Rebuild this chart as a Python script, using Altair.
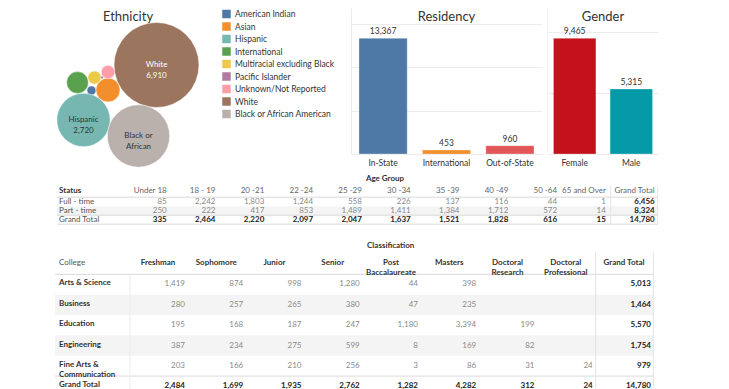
import altair as alt
import pandas as pd

FONT = "Lato"
DARK = "#333333"
GREY = "#8a8a8a"
LINE = "#d9d9d9"
BAND = "#f4f4f4"

# ---------------- data ----------------
eth_names = ["American Indian", "Asian", "Hispanic", "International",
             "Multiracial excluding Black", "Pacific Islander",
             "Unknown/Not Reported", "White", "Black or African American"]
eth_values = [78, 551, 2720, 453, 165, 8, 175, 6910, 3720]
eth_colors = ["#4e79a7", "#f28e2b", "#76b7b2", "#59a14f", "#edc948",
              "#b07aa1", "#ff9da7", "#9c755f", "#bab0ac"]
# packed-bubble layout centres (layout units)
eth_x = [83.5, 100, 75.5, 69.5, 86.5, 94, 100, 148.5, 130.5]
eth_y = [82.5, 82, 112, 74.5, 69.5, 69.5, 64, 57, 128]
bubble_label_names = ["White", "Hispanic", "Black or African American"]
bubble_label_text = ["White\n6,910", "Hispanic\n2,720", "Black or\nAfrican"]
bubble_label_color = ["#ffffff", DARK, DARK]

res_cats = ["In-State", "International", "Out-of-State"]
res_vals = [13367, 453, 960]
res_colors = ["#4e79a7", "#f28e2b", "#e15759"]

gen_cats = ["Female", "Male"]
gen_vals = [9465, 5315]
gen_colors = ["#c4111c", "#0699a8"]

age_cols = ["Under 18", "18 - 19", "20 -21", "22 -24", "25 -29", "30 -34",
            "35 -39", "40 -49", "50 -64", "65 and Over"]
age_status = ["Full - time", "Part - time"]
full_time = [85, 2242, 1803, 1244, 558, 226, 137, 116, 44, 1]
part_time = [250, 222, 417, 853, 1489, 1411, 1384, 1712, 572, 14]

colleges = ["Arts & Science", "Business", "Education", "Engineering",
            "Fine Arts &\nCommunication"]
classes = ["Freshman", "Sophomore", "Junior", "Senior", "Post\nBaccalaureate",
           "Masters", "Doctoral\nResearch", "Doctoral\nProfessional"]
arts_science = [1419, 874, 998, 1280, 44, 398, None, None]
business = [280, 257, 265, 380, 47, 235, None, None]
education = [195, 168, 187, 247, 1180, 3394, 199, None]
engineering = [387, 234, 275, 599, 8, 169, 82, None]
fine_arts = [203, 166, 210, 256, 3, 86, 31, 24]
college_values = [arts_science, business, education, engineering, fine_arts]

TITLE_Y = 13
TITLE_SIZE = 13


def one(text):
    return pd.DataFrame({"t": [text]})


# ---------------- Ethnicity bubbles ----------------
eth_df = pd.DataFrame({"name": eth_names, "value": eth_values, "bx": eth_x, "by": eth_y})
lab_df = pd.DataFrame({"name": bubble_label_names, "lab": bubble_label_text,
                       "lc": bubble_label_color})
lab_df["bx"] = [eth_x[eth_names.index(n)] for n in bubble_label_names]
lab_df["by"] = [eth_y[eth_names.index(n)] for n in bubble_label_names]

PANEL_W, PANEL_H = 338, 381
bx_scale = alt.Scale(domain=[0, PANEL_W], nice=False, zero=False)
by_scale = alt.Scale(domain=[0, PANEL_H], nice=False, zero=False, reverse=True)

bubbles = alt.Chart(eth_df).mark_circle(opacity=1, stroke="white", strokeWidth=0.7,
                                        strokeOpacity=0.7).encode(
    x=alt.X("bx:Q", scale=bx_scale, axis=None),
    y=alt.Y("by:Q", scale=by_scale, axis=None),
    size=alt.Size("value:Q", scale=alt.Scale(domain=[0, 6910], range=[0, 7225]), legend=None),
    color=alt.Color("name:N", scale=alt.Scale(domain=eth_names, range=eth_colors),
                    legend=alt.Legend(title=None, orient="none", legendX=214, legendY=1.5,
                                      symbolType="square", symbolSize=72,
                                      symbolStrokeWidth=0, symbolOpacity=1,
                                      labelFontSize=8.5, labelColor=DARK, labelFont=FONT,
                                      rowPadding=3.5, labelOffset=4, padding=0,
                                      labelLimit=300)),
)
bubble_labels = alt.Chart(lab_df).mark_text(fontSize=8, lineBreak="\n", lineHeight=10.5,
                                            baseline="middle", align="center").encode(
    x=alt.X("bx:Q", scale=bx_scale, axis=None),
    y=alt.Y("by:Q", scale=by_scale, axis=None),
    text="lab:N",
    color=alt.Color("lc:N", scale=None),
)
eth_title = alt.Chart(one("Ethnicity")).mark_text(fontSize=TITLE_SIZE, color=DARK,
                                                 align="center", baseline="alphabetic").encode(
    text="t:N", x=alt.value(120), y=alt.value(TITLE_Y))

# ---------------- Age table (drawn in the left panel's frame) ----------------
AGE_TOP = 170
age_rows = age_status + ["Grand Total"]
age_all_cols = age_cols + ["Grand Total"]
cells, totals = [], []
for r, vals in zip(age_status, [full_time, part_time]):
    for c, v in zip(age_cols, vals):
        cells.append(dict(acol=c, arow=r, val=v))
    totals.append(dict(acol="Grand Total", arow=r, val=sum(vals)))
for i, c in enumerate(age_cols):
    totals.append(dict(acol=c, arow="Grand Total", val=full_time[i] + part_time[i]))
totals.append(dict(acol="Grand Total", arow="Grand Total", val=sum(full_time) + sum(part_time)))

ax_scale = alt.Scale(type="point", domain=age_all_cols, range=[158.7, 646.7], padding=0)
ay_scale = alt.Scale(type="band", domain=age_rows, range=[AGE_TOP + 19.2, AGE_TOP + 46.2],
                     paddingInner=0, paddingOuter=0)
AX = lambda: alt.X("acol:N", scale=ax_scale, axis=None)
AY = lambda **kw: alt.Y("arow:N", scale=ay_scale, axis=None, **kw)

age_band = alt.Chart(pd.DataFrame({"arow": ["Part - time"]})).mark_rect(color=BAND).encode(
    y=AY(), x=alt.value(49), x2=alt.value(649.7))
age_hlines = alt.Chart(pd.DataFrame({"arow": ["Full - time", "Grand Total"]})).mark_rule(
    color=LINE, strokeWidth=1).encode(y=AY(bandPosition=0), x=alt.value(49), x2=alt.value(649.7))
age_bottom = alt.Chart(pd.DataFrame({"arow": ["Grand Total"]})).mark_rule(
    color=LINE, strokeWidth=1).encode(y=AY(bandPosition=1), x=alt.value(49), x2=alt.value(649.7))
age_vlines = alt.Chart(pd.DataFrame({"k": [602.7, 649.7]})).mark_rule(
    color="#e3e3e3", strokeWidth=1).encode(x=alt.X("k:Q", scale=None),
                                           y=alt.value(AGE_TOP + 8), y2=alt.value(AGE_TOP + 46.2))
age_head = alt.Chart(pd.DataFrame({"acol": age_all_cols})).mark_text(
    align="right", baseline="middle", fontSize=8, color="#666666").encode(
    x=AX(), y=alt.value(AGE_TOP + 12.7), text="acol:N")
age_status_head = alt.Chart(one("Status")).mark_text(
    align="left", baseline="middle", fontSize=8, fontWeight="bold", color=DARK).encode(
    x=alt.value(51), y=alt.value(AGE_TOP + 12.7), text="t:N")
age_group_head = alt.Chart(one("Age Group")).mark_text(
    align="center", baseline="middle", fontSize=8, fontWeight="bold", color=DARK).encode(
    x=alt.value(377), y=alt.value(AGE_TOP + 1), text="t:N")
age_row_head = alt.Chart(pd.DataFrame({"arow": age_rows})).mark_text(
    align="left", baseline="middle", fontSize=8, color="#555555").encode(
    x=alt.value(51), y=AY(), text="arow:N")
age_cells = alt.Chart(pd.DataFrame(cells)).mark_text(
    align="right", baseline="middle", fontSize=8, color=GREY).encode(
    x=AX(), y=AY(), text=alt.Text("val:Q", format=","))
age_totals = alt.Chart(pd.DataFrame(totals)).mark_text(
    align="right", baseline="middle", fontSize=8, fontWeight="bold", color="#222222").encode(
    x=AX(), y=AY(), text=alt.Text("val:Q", format=","))

# ---------------- College table ----------------
COL_TOP = 230
col_rows = colleges + ["Grand Total"]
col_all = classes + ["Grand Total"]
ccells, ctotals = [], []
for cname, vals in zip(colleges, college_values):
    for cl, v in zip(classes, vals):
        if v is not None:
            ccells.append(dict(ccol=cl, crow=cname, val=v))
    ctotals.append(dict(ccol="Grand Total", crow=cname, val=sum(v for v in vals if v)))
for j, cl in enumerate(classes):
    ctotals.append(dict(ccol=cl, crow="Grand Total",
                        val=sum(vals[j] for vals in college_values if vals[j])))
ctotals.append(dict(ccol="Grand Total", crow="Grand Total",
                    val=sum(v for vals in college_values for v in vals if v)))

cx_scale = alt.Scale(type="point", domain=col_all, range=[177, 643], padding=0)
cy_scale = alt.Scale(type="band", domain=col_rows, range=[COL_TOP + 36.3, COL_TOP + 158.4],
                     paddingInner=0, paddingOuter=0)
CX = lambda: alt.X("ccol:N", scale=cx_scale, axis=None)
CY = lambda **kw: alt.Y("crow:N", scale=cy_scale, axis=None, **kw)

col_band = alt.Chart(pd.DataFrame({"crow": ["Business", "Engineering"]})).mark_rect(
    color=BAND).encode(y=CY(), x=alt.value(47), x2=alt.value(645.3))
col_hlines = alt.Chart(pd.DataFrame({"crow": ["Arts & Science", "Grand Total"]})).mark_rule(
    color=LINE, strokeWidth=1).encode(y=CY(bandPosition=0), x=alt.value(47), x2=alt.value(645.3))
col_vline_a = alt.Chart(pd.DataFrame({"k": [122]})).mark_rule(
    color="#ebebeb", strokeWidth=1).encode(x=alt.X("k:Q", scale=None),
                                           y=alt.value(COL_TOP + 36.3), y2=alt.value(COL_TOP + 170))
col_vlines = alt.Chart(pd.DataFrame({"k": [587.7, 645.3]})).mark_rule(
    color="#e3e3e3", strokeWidth=1).encode(x=alt.X("k:Q", scale=None),
                                           y=alt.value(COL_TOP + 13.7), y2=alt.value(COL_TOP + 170))
col_head = alt.Chart(pd.DataFrame({"ccol": col_all})).mark_text(
    align="center", baseline="middle", dx=-27, fontSize=8, fontWeight="bold", color=DARK,
    lineBreak="\n", lineHeight=10).encode(x=CX(), y=alt.value(COL_TOP + 25.3), text="ccol:N")
col_college_head = alt.Chart(one("College")).mark_text(
    align="left", baseline="middle", fontSize=8, color="#555555").encode(
    x=alt.value(51), y=alt.value(COL_TOP + 25.3), text="t:N")
col_class_head = alt.Chart(one("Classification")).mark_text(
    align="center", baseline="middle", fontSize=8, fontWeight="bold", color=DARK).encode(
    x=alt.value(382.7), y=alt.value(COL_TOP + 8), text="t:N")
col_row_head = alt.Chart(pd.DataFrame({"crow": col_rows})).mark_text(
    align="left", baseline="middle", fontSize=8, fontWeight="bold", color=DARK,
    lineBreak="\n", lineHeight=10, dy=-1).encode(x=alt.value(51), y=CY(), text="crow:N")
col_cells = alt.Chart(pd.DataFrame(ccells)).mark_text(
    align="right", baseline="middle", fontSize=8, color=GREY).encode(
    x=CX(), y=CY(), text=alt.Text("val:Q", format=","))
col_totals = alt.Chart(pd.DataFrame(ctotals)).mark_text(
    align="right", baseline="middle", fontSize=8, fontWeight="bold", color="#222222").encode(
    x=CX(), y=CY(), text=alt.Text("val:Q", format=","))

left_panel = alt.layer(
    bubbles, bubble_labels, eth_title,
    age_band, age_hlines, age_bottom, age_vlines, age_head, age_status_head,
    age_group_head, age_row_head, age_cells, age_totals,
    col_band, col_hlines, col_vline_a, col_vlines, col_head, col_college_head,
    col_class_head, col_row_head, col_cells, col_totals,
).resolve_scale(x="independent", y="independent", color="independent").properties(
    width=PANEL_W, height=PANEL_H)


# ---------------- bar panels ----------------
def bar_panel(cats, vals, colors, title, width, ymax, grid_vals, pin, pout, fname, edge):
    df = pd.DataFrame({fname: cats, "v": vals})
    base = alt.Chart(df).encode(
        x=alt.X(f"{fname}:N", sort=cats,
                scale=alt.Scale(paddingInner=pin, paddingOuter=pout),
                axis=alt.Axis(title=None, labelAngle=0, domain=False, ticks=False,
                              labelPadding=4, labelFontSize=8.5, labelColor=DARK,
                              labelFont=FONT)),
        y=alt.Y("v:Q", scale=alt.Scale(domain=[0, ymax], nice=False, zero=True),
                axis=alt.Axis(title=None, labels=False, ticks=False, values=grid_vals,
                              grid=True, gridColor="#ececec", domain=True,
                              domainColor=edge)),
    )
    bars = base.mark_bar(stroke="white", strokeWidth=0.6, strokeOpacity=0.5).encode(
        color=alt.Color(f"{fname}:N", scale=alt.Scale(domain=cats, range=colors), legend=None))
    labels = base.mark_text(baseline="bottom", dy=-2, fontSize=8.5, color=DARK).encode(
        text=alt.Text("v:Q", format=","))
    ttl = alt.Chart(one(title)).mark_text(fontSize=TITLE_SIZE, color=DARK, align="center",
                                          baseline="alphabetic").encode(
        text="t:N", x=alt.value(width / 2), y=alt.value(TITLE_Y))
    return alt.layer(bars, labels, ttl).properties(width=width, height=146)


residency = bar_panel(res_cats, res_vals, res_colors, "Residency", 191, 16870,
                      [0, 5000, 10000, 15000], 0.24, 0.126, "rcat", "#ececec")
gender = bar_panel(gen_cats, gen_vals, gen_colors, "Gender", 112, 11944,
                   [0, 5000, 10000], 0.25, 0.114, "gcat", "#f5f5f5")

chart = alt.hconcat(left_panel, residency, gender, spacing=5, bounds="flush").resolve_scale(
    x="independent", y="independent", color="independent", size="independent"
).properties(padding=0).configure(font=FONT).configure_view(stroke=None)

chart.save("out.html", embed_options={"renderer": "svg", "actions": False})
